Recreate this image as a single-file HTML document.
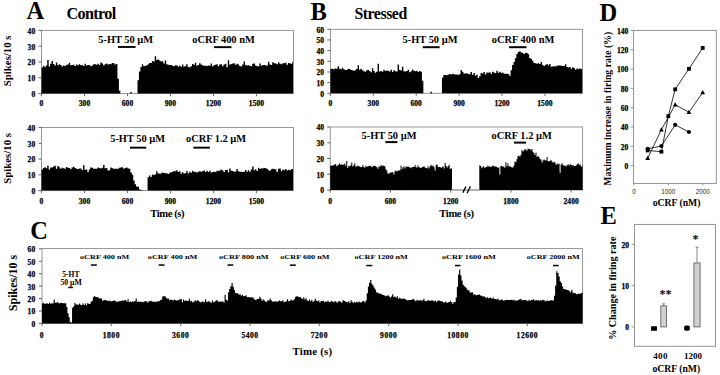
<!DOCTYPE html>
<html><head><meta charset="utf-8"><style>
html,body{margin:0;padding:0;background:#fff;}
svg{display:block;}
</style></head><body>
<svg width="720" height="375" viewBox="0 0 720 375">
<rect width="720" height="375" fill="#fff"/>
<text x="26.60" y="18.70" font-size="24.5" text-anchor="start" font-weight="bold" font-family='"Liberation Serif", serif' fill="#000" >A</text>
<text x="66.60" y="18.60" font-size="16.2" text-anchor="start" font-weight="bold" font-family='"Liberation Serif", serif' fill="#000"  textLength="49.62" lengthAdjust="spacing">Control</text>
<text x="310.40" y="19.60" font-size="24.5" text-anchor="start" font-weight="bold" font-family='"Liberation Serif", serif' fill="#000" >B</text>
<text x="354.40" y="18.80" font-size="15.8" text-anchor="start" font-weight="bold" font-family='"Liberation Serif", serif' fill="#000"  textLength="52.82" lengthAdjust="spacing">Stressed</text>
<text x="599.50" y="21.40" font-size="24.5" text-anchor="start" font-weight="bold" font-family='"Liberation Serif", serif' fill="#000" >D</text>
<text x="30.20" y="239.00" font-size="24.5" text-anchor="start" font-weight="bold" font-family='"Liberation Serif", serif' fill="#000" >C</text>
<text x="600.40" y="223.90" font-size="24.5" text-anchor="start" font-weight="bold" font-family='"Liberation Serif", serif' fill="#000" >E</text>
<rect x="41.50" y="30.40" width="252.00" height="63.20" fill="none" stroke="#8a8a8a" stroke-width="0.9"/>
<path d="M41.50,93.60L41.50,67.45L42.93,67.45L42.93,65.65L44.37,65.65L44.37,66.99L45.80,66.99L45.80,65.52L47.23,65.52L47.23,60.10L48.66,60.10L48.66,66.54L50.10,66.54L50.10,63.85L51.53,63.85L51.53,60.93L52.96,60.93L52.96,63.95L54.40,63.95L54.40,65.60L55.83,65.60L55.83,62.45L57.26,62.45L57.26,65.17L58.70,65.17L58.70,64.24L60.13,64.24L60.13,65.07L61.56,65.07L61.56,66.62L63.00,66.62L63.00,65.43L64.43,65.43L64.43,66.00L65.86,66.00L65.86,65.05L67.29,65.05L67.29,64.45L68.73,64.45L68.73,62.79L70.16,62.79L70.16,65.33L71.59,65.33L71.59,64.89L73.03,64.89L73.03,64.70L74.46,64.70L74.46,66.00L75.89,66.00L75.89,64.57L77.33,64.57L77.33,65.22L78.76,65.22L78.76,64.27L80.19,64.27L80.19,65.33L81.62,65.33L81.62,65.07L83.06,65.07L83.06,65.94L84.49,65.94L84.49,63.64L85.92,63.64L85.92,65.55L87.36,65.55L87.36,64.92L88.79,64.92L88.79,64.98L90.22,64.98L90.22,66.14L91.66,66.14L91.66,65.55L93.09,65.55L93.09,64.24L94.52,64.24L94.52,64.16L95.95,64.16L95.95,64.79L97.39,64.79L97.39,63.84L98.82,63.84L98.82,65.02L100.25,65.02L100.25,62.49L101.69,62.49L101.69,63.51L103.12,63.51L103.12,65.40L104.55,65.40L104.55,64.15L105.98,64.15L105.98,63.59L107.42,63.59L107.42,64.39L108.85,64.39L108.85,63.92L110.28,63.92L110.28,64.21L111.72,64.21L111.72,62.97L113.15,62.97L113.15,63.18L114.58,63.18L114.58,64.50L116.02,64.50L116.02,63.99L117.45,63.99L117.45,78.68L118.88,78.68L118.88,90.64L120.32,90.64L120.32,93.60L121.75,93.60L121.75,93.60L123.18,93.60L123.18,93.60L124.61,93.60L124.61,93.60L126.05,93.60L126.05,93.60L127.48,93.60L127.48,93.60L128.91,93.60L128.91,93.60L130.35,93.60L130.35,92.02L131.78,92.02L131.78,93.60L133.21,93.60L133.21,93.60L134.65,93.60L134.65,93.60L136.08,93.60L136.08,93.60L137.51,93.60L137.51,80.19L138.94,80.19L138.94,71.40L140.38,71.40L140.38,66.99L141.81,66.99L141.81,64.26L143.24,64.26L143.24,66.19L144.68,66.19L144.68,65.75L146.11,65.75L146.11,65.39L147.54,65.39L147.54,64.30L148.98,64.30L148.98,63.04L150.41,63.04L150.41,62.90L151.84,62.90L151.84,61.06L153.27,61.06L153.27,61.61L154.71,61.61L154.71,56.22L156.14,56.22L156.14,59.91L157.57,59.91L157.57,59.40L159.01,59.40L159.01,60.56L160.44,60.56L160.44,61.59L161.87,61.59L161.87,61.26L163.31,61.26L163.31,63.43L164.74,63.43L164.74,60.46L166.17,60.46L166.17,64.33L167.60,64.33L167.60,64.66L169.04,64.66L169.04,64.90L170.47,64.90L170.47,64.97L171.90,64.97L171.90,65.70L173.34,65.70L173.34,66.37L174.77,66.37L174.77,65.34L176.20,65.34L176.20,65.39L177.64,65.39L177.64,66.53L179.07,66.53L179.07,65.74L180.50,65.74L180.50,66.81L181.93,66.81L181.93,64.47L183.37,64.47L183.37,66.79L184.80,66.79L184.80,65.89L186.23,65.89L186.23,64.13L187.67,64.13L187.67,66.91L189.10,66.91L189.10,67.30L190.53,67.30L190.53,66.19L191.97,66.19L191.97,64.02L193.40,64.02L193.40,64.82L194.83,64.82L194.83,62.78L196.26,62.78L196.26,65.73L197.70,65.73L197.70,64.97L199.13,64.97L199.13,63.26L200.56,63.26L200.56,64.55L202.00,64.55L202.00,65.36L203.43,65.36L203.43,65.67L204.86,65.67L204.86,65.65L206.30,65.65L206.30,65.98L207.73,65.98L207.73,65.44L209.16,65.44L209.16,65.68L210.59,65.68L210.59,63.47L212.03,63.47L212.03,66.16L213.46,66.16L213.46,65.36L214.89,65.36L214.89,64.68L216.33,64.68L216.33,64.27L217.76,64.27L217.76,66.34L219.19,66.34L219.19,64.61L220.62,64.61L220.62,64.20L222.06,64.20L222.06,66.23L223.49,66.23L223.49,64.40L224.92,64.40L224.92,63.64L226.36,63.64L226.36,67.34L227.79,67.34L227.79,60.33L229.22,60.33L229.22,64.66L230.66,64.66L230.66,64.07L232.09,64.07L232.09,63.45L233.52,63.45L233.52,63.25L234.96,63.25L234.96,64.72L236.39,64.72L236.39,63.71L237.82,63.71L237.82,64.59L239.25,64.59L239.25,65.93L240.69,65.93L240.69,66.38L242.12,66.38L242.12,64.61L243.55,64.61L243.55,61.60L244.99,61.60L244.99,65.06L246.42,65.06L246.42,65.49L247.85,65.49L247.85,65.28L249.29,65.28L249.29,65.98L250.72,65.98L250.72,66.20L252.15,66.20L252.15,63.83L253.58,63.83L253.58,63.48L255.02,63.48L255.02,65.47L256.45,65.47L256.45,66.28L257.88,66.28L257.88,66.23L259.32,66.23L259.32,63.46L260.75,63.46L260.75,65.79L262.18,65.79L262.18,64.94L263.62,64.94L263.62,65.03L265.05,65.03L265.05,65.39L266.48,65.39L266.48,65.55L267.91,65.55L267.91,61.73L269.35,61.73L269.35,64.57L270.78,64.57L270.78,65.08L272.21,65.08L272.21,62.25L273.65,62.25L273.65,63.18L275.08,63.18L275.08,63.50L276.51,63.50L276.51,64.17L277.95,64.17L277.95,62.32L279.38,62.32L279.38,63.64L280.81,63.64L280.81,64.32L282.24,64.32L282.24,63.36L283.68,63.36L283.68,63.22L285.11,63.22L285.11,62.80L286.54,62.80L286.54,64.74L287.98,64.74L287.98,63.07L289.41,63.07L289.41,63.51L290.84,63.51L290.84,63.71L292.27,63.71L292.27,61.78L292.99,61.78L292.99,93.60Z" fill="#000"/>
<line x1="38.50" y1="93.60" x2="41.50" y2="93.60" stroke="#555" stroke-width="0.9"/>
<text x="35.20" y="97.00" font-size="7.6" text-anchor="end" font-weight="bold" font-family='"Liberation Serif", serif' fill="#000" stroke="#000" stroke-width="0.25">0</text>
<line x1="38.50" y1="77.80" x2="41.50" y2="77.80" stroke="#555" stroke-width="0.9"/>
<text x="35.20" y="81.20" font-size="7.6" text-anchor="end" font-weight="bold" font-family='"Liberation Serif", serif' fill="#000" stroke="#000" stroke-width="0.25">10</text>
<line x1="38.50" y1="62.00" x2="41.50" y2="62.00" stroke="#555" stroke-width="0.9"/>
<text x="35.20" y="65.40" font-size="7.6" text-anchor="end" font-weight="bold" font-family='"Liberation Serif", serif' fill="#000" stroke="#000" stroke-width="0.25">20</text>
<line x1="38.50" y1="46.20" x2="41.50" y2="46.20" stroke="#555" stroke-width="0.9"/>
<text x="35.20" y="49.60" font-size="7.6" text-anchor="end" font-weight="bold" font-family='"Liberation Serif", serif' fill="#000" stroke="#000" stroke-width="0.25">30</text>
<line x1="38.50" y1="30.40" x2="41.50" y2="30.40" stroke="#555" stroke-width="0.9"/>
<text x="35.20" y="33.80" font-size="7.6" text-anchor="end" font-weight="bold" font-family='"Liberation Serif", serif' fill="#000" stroke="#000" stroke-width="0.25">40</text>
<line x1="41.50" y1="93.60" x2="41.50" y2="96.20" stroke="#555" stroke-width="0.9"/>
<text x="41.50" y="106.40" font-size="7.6" text-anchor="middle" font-weight="bold" font-family='"Liberation Serif", serif' fill="#000"  stroke="#000" stroke-width="0.25">0</text>
<line x1="84.49" y1="93.60" x2="84.49" y2="96.20" stroke="#555" stroke-width="0.9"/>
<text x="84.49" y="106.40" font-size="7.6" text-anchor="middle" font-weight="bold" font-family='"Liberation Serif", serif' fill="#000"  stroke="#000" stroke-width="0.25">300</text>
<line x1="127.48" y1="93.60" x2="127.48" y2="96.20" stroke="#555" stroke-width="0.9"/>
<text x="127.48" y="106.40" font-size="7.6" text-anchor="middle" font-weight="bold" font-family='"Liberation Serif", serif' fill="#000"  stroke="#000" stroke-width="0.25">600</text>
<line x1="170.47" y1="93.60" x2="170.47" y2="96.20" stroke="#555" stroke-width="0.9"/>
<text x="170.47" y="106.40" font-size="7.6" text-anchor="middle" font-weight="bold" font-family='"Liberation Serif", serif' fill="#000"  stroke="#000" stroke-width="0.25">900</text>
<line x1="213.46" y1="93.60" x2="213.46" y2="96.20" stroke="#555" stroke-width="0.9"/>
<text x="213.46" y="106.40" font-size="7.6" text-anchor="middle" font-weight="bold" font-family='"Liberation Serif", serif' fill="#000"  stroke="#000" stroke-width="0.25">1200</text>
<line x1="256.45" y1="93.60" x2="256.45" y2="96.20" stroke="#555" stroke-width="0.9"/>
<text x="256.45" y="106.40" font-size="7.6" text-anchor="middle" font-weight="bold" font-family='"Liberation Serif", serif' fill="#000"  stroke="#000" stroke-width="0.25">1500</text>
<text x="0" y="0" font-size="10.8" text-anchor="middle" font-weight="bold" font-family='"Liberation Serif", serif' transform="translate(10.50,60.80) rotate(-90)" >Spikes/10 s</text>
<text x="98.30" y="42.80" font-size="10.4" text-anchor="start" font-weight="bold" font-family='"Liberation Serif", serif' fill="#000" >5-HT 50 µM</text>
<rect x="118.00" y="46.00" width="17.60" height="1.90" fill="#000" />
<text x="192.20" y="42.80" font-size="10.4" text-anchor="start" font-weight="bold" font-family='"Liberation Serif", serif' fill="#000" >oCRF 400 nM</text>
<rect x="214.00" y="46.20" width="17.50" height="1.90" fill="#000" />
<rect x="41.50" y="127.50" width="252.00" height="63.10" fill="none" stroke="#8a8a8a" stroke-width="0.9"/>
<path d="M41.50,190.60L41.50,169.57L42.93,169.57L42.93,167.98L44.37,167.98L44.37,167.28L45.80,167.28L45.80,168.14L47.23,168.14L47.23,165.83L48.66,165.83L48.66,169.39L50.10,169.39L50.10,167.58L51.53,167.58L51.53,167.39L52.96,167.39L52.96,166.57L54.40,166.57L54.40,165.83L55.83,165.83L55.83,168.70L57.26,168.70L57.26,165.98L58.70,165.98L58.70,167.23L60.13,167.23L60.13,168.77L61.56,168.77L61.56,167.76L63.00,167.76L63.00,168.35L64.43,168.35L64.43,168.70L65.86,168.70L65.86,166.98L67.29,166.98L67.29,167.65L68.73,167.65L68.73,168.02L70.16,168.02L70.16,169.31L71.59,169.31L71.59,167.58L73.03,167.58L73.03,166.70L74.46,166.70L74.46,167.91L75.89,167.91L75.89,168.66L77.33,168.66L77.33,168.96L78.76,168.96L78.76,168.41L80.19,168.41L80.19,168.61L81.62,168.61L81.62,169.92L83.06,169.92L83.06,165.24L84.49,165.24L84.49,169.87L85.92,169.87L85.92,169.61L87.36,169.61L87.36,171.89L88.79,171.89L88.79,169.44L90.22,169.44L90.22,167.42L91.66,167.42L91.66,167.67L93.09,167.67L93.09,168.71L94.52,168.71L94.52,168.73L95.95,168.73L95.95,168.70L97.39,168.70L97.39,167.42L98.82,167.42L98.82,167.91L100.25,167.91L100.25,168.60L101.69,168.60L101.69,167.85L103.12,167.85L103.12,165.11L104.55,165.11L104.55,168.30L105.98,168.30L105.98,167.91L107.42,167.91L107.42,170.38L108.85,170.38L108.85,170.22L110.28,170.22L110.28,167.53L111.72,167.53L111.72,168.22L113.15,168.22L113.15,168.77L114.58,168.77L114.58,168.85L116.02,168.85L116.02,168.83L117.45,168.83L117.45,168.83L118.88,168.83L118.88,167.87L120.32,167.87L120.32,167.60L121.75,167.60L121.75,167.19L123.18,167.19L123.18,168.64L124.61,168.64L124.61,168.06L126.05,168.06L126.05,167.47L127.48,167.47L127.48,168.38L128.91,168.38L128.91,168.67L130.35,168.67L130.35,172.53L131.78,172.53L131.78,174.65L133.21,174.65L133.21,180.55L134.65,180.55L134.65,184.25L136.08,184.25L136.08,186.61L137.51,186.61L137.51,186.70L138.94,186.70L138.94,189.39L140.38,189.39L140.38,189.84L141.81,189.84L141.81,190.24L143.24,190.24L143.24,190.60L144.68,190.60L144.68,190.60L146.11,190.60L146.11,190.60L147.54,190.60L147.54,177.26L148.98,177.26L148.98,175.44L150.41,175.44L150.41,177.11L151.84,177.11L151.84,174.40L153.27,174.40L153.27,174.97L154.71,174.97L154.71,174.36L156.14,174.36L156.14,171.17L157.57,171.17L157.57,173.48L159.01,173.48L159.01,173.39L160.44,173.39L160.44,173.53L161.87,173.53L161.87,172.45L163.31,172.45L163.31,173.02L164.74,173.02L164.74,173.22L166.17,173.22L166.17,173.19L167.60,173.19L167.60,174.08L169.04,174.08L169.04,172.65L170.47,172.65L170.47,172.27L171.90,172.27L171.90,171.80L173.34,171.80L173.34,171.09L174.77,171.09L174.77,171.33L176.20,171.33L176.20,170.27L177.64,170.27L177.64,171.94L179.07,171.94L179.07,171.24L180.50,171.24L180.50,173.63L181.93,173.63L181.93,172.13L183.37,172.13L183.37,173.51L184.80,173.51L184.80,173.17L186.23,173.17L186.23,170.91L187.67,170.91L187.67,173.38L189.10,173.38L189.10,171.86L190.53,171.86L190.53,172.83L191.97,172.83L191.97,170.66L193.40,170.66L193.40,172.02L194.83,172.02L194.83,171.86L196.26,171.86L196.26,172.56L197.70,172.56L197.70,171.87L199.13,171.87L199.13,171.18L200.56,171.18L200.56,171.63L202.00,171.63L202.00,171.30L203.43,171.30L203.43,170.38L204.86,170.38L204.86,172.03L206.30,172.03L206.30,170.83L207.73,170.83L207.73,171.97L209.16,171.97L209.16,170.72L210.59,170.72L210.59,172.48L212.03,172.48L212.03,171.92L213.46,171.92L213.46,171.84L214.89,171.84L214.89,172.02L216.33,172.02L216.33,170.64L217.76,170.64L217.76,171.04L219.19,171.04L219.19,170.52L220.62,170.52L220.62,169.48L222.06,169.48L222.06,170.56L223.49,170.56L223.49,172.09L224.92,172.09L224.92,169.89L226.36,169.89L226.36,169.87L227.79,169.87L227.79,172.36L229.22,172.36L229.22,168.55L230.66,168.55L230.66,170.84L232.09,170.84L232.09,171.10L233.52,171.10L233.52,171.67L234.96,171.67L234.96,171.58L236.39,171.58L236.39,169.09L237.82,169.09L237.82,171.27L239.25,171.27L239.25,171.85L240.69,171.85L240.69,171.73L242.12,171.73L242.12,172.03L243.55,172.03L243.55,171.80L244.99,171.80L244.99,170.06L246.42,170.06L246.42,171.66L247.85,171.66L247.85,170.17L249.29,170.17L249.29,171.72L250.72,171.72L250.72,169.60L252.15,169.60L252.15,166.62L253.58,166.62L253.58,170.29L255.02,170.29L255.02,169.18L256.45,169.18L256.45,170.99L257.88,170.99L257.88,167.65L259.32,167.65L259.32,169.05L260.75,169.05L260.75,168.28L262.18,168.28L262.18,168.49L263.62,168.49L263.62,167.97L265.05,167.97L265.05,168.18L266.48,168.18L266.48,168.66L267.91,168.66L267.91,170.16L269.35,170.16L269.35,170.80L270.78,170.80L270.78,169.23L272.21,169.23L272.21,168.67L273.65,168.67L273.65,169.10L275.08,169.10L275.08,169.57L276.51,169.57L276.51,171.97L277.95,171.97L277.95,168.64L279.38,168.64L279.38,168.60L280.81,168.60L280.81,171.30L282.24,171.30L282.24,169.61L283.68,169.61L283.68,170.27L285.11,170.27L285.11,168.99L286.54,168.99L286.54,170.40L287.98,170.40L287.98,169.72L289.41,169.72L289.41,170.22L290.84,170.22L290.84,169.25L292.27,169.25L292.27,168.95L292.99,168.95L292.99,190.60Z" fill="#000"/>
<line x1="38.50" y1="190.60" x2="41.50" y2="190.60" stroke="#555" stroke-width="0.9"/>
<text x="35.20" y="194.00" font-size="7.6" text-anchor="end" font-weight="bold" font-family='"Liberation Serif", serif' fill="#000" stroke="#000" stroke-width="0.25">0</text>
<line x1="38.50" y1="174.82" x2="41.50" y2="174.82" stroke="#555" stroke-width="0.9"/>
<text x="35.20" y="178.22" font-size="7.6" text-anchor="end" font-weight="bold" font-family='"Liberation Serif", serif' fill="#000" stroke="#000" stroke-width="0.25">10</text>
<line x1="38.50" y1="159.05" x2="41.50" y2="159.05" stroke="#555" stroke-width="0.9"/>
<text x="35.20" y="162.45" font-size="7.6" text-anchor="end" font-weight="bold" font-family='"Liberation Serif", serif' fill="#000" stroke="#000" stroke-width="0.25">20</text>
<line x1="38.50" y1="143.28" x2="41.50" y2="143.28" stroke="#555" stroke-width="0.9"/>
<text x="35.20" y="146.68" font-size="7.6" text-anchor="end" font-weight="bold" font-family='"Liberation Serif", serif' fill="#000" stroke="#000" stroke-width="0.25">30</text>
<line x1="38.50" y1="127.50" x2="41.50" y2="127.50" stroke="#555" stroke-width="0.9"/>
<text x="35.20" y="130.90" font-size="7.6" text-anchor="end" font-weight="bold" font-family='"Liberation Serif", serif' fill="#000" stroke="#000" stroke-width="0.25">40</text>
<line x1="41.50" y1="190.60" x2="41.50" y2="193.20" stroke="#555" stroke-width="0.9"/>
<text x="41.50" y="203.80" font-size="7.6" text-anchor="middle" font-weight="bold" font-family='"Liberation Serif", serif' fill="#000"  stroke="#000" stroke-width="0.25">0</text>
<line x1="84.49" y1="190.60" x2="84.49" y2="193.20" stroke="#555" stroke-width="0.9"/>
<text x="84.49" y="203.80" font-size="7.6" text-anchor="middle" font-weight="bold" font-family='"Liberation Serif", serif' fill="#000"  stroke="#000" stroke-width="0.25">300</text>
<line x1="127.48" y1="190.60" x2="127.48" y2="193.20" stroke="#555" stroke-width="0.9"/>
<text x="127.48" y="203.80" font-size="7.6" text-anchor="middle" font-weight="bold" font-family='"Liberation Serif", serif' fill="#000"  stroke="#000" stroke-width="0.25">600</text>
<line x1="170.47" y1="190.60" x2="170.47" y2="193.20" stroke="#555" stroke-width="0.9"/>
<text x="170.47" y="203.80" font-size="7.6" text-anchor="middle" font-weight="bold" font-family='"Liberation Serif", serif' fill="#000"  stroke="#000" stroke-width="0.25">900</text>
<line x1="213.46" y1="190.60" x2="213.46" y2="193.20" stroke="#555" stroke-width="0.9"/>
<text x="213.46" y="203.80" font-size="7.6" text-anchor="middle" font-weight="bold" font-family='"Liberation Serif", serif' fill="#000"  stroke="#000" stroke-width="0.25">1200</text>
<line x1="256.45" y1="190.60" x2="256.45" y2="193.20" stroke="#555" stroke-width="0.9"/>
<text x="256.45" y="203.80" font-size="7.6" text-anchor="middle" font-weight="bold" font-family='"Liberation Serif", serif' fill="#000"  stroke="#000" stroke-width="0.25">1500</text>
<text x="0" y="0" font-size="10.8" text-anchor="middle" font-weight="bold" font-family='"Liberation Serif", serif' transform="translate(11.00,158.40) rotate(-90)" >Spikes/10 s</text>
<text x="110.20" y="141.50" font-size="10.4" text-anchor="start" font-weight="bold" font-family='"Liberation Serif", serif' fill="#000" >5-HT 50 µM</text>
<rect x="130.00" y="146.70" width="16.20" height="1.90" fill="#000" />
<text x="186.00" y="141.50" font-size="10.4" text-anchor="start" font-weight="bold" font-family='"Liberation Serif", serif' fill="#000" >oCRF 1.2 µM</text>
<rect x="193.40" y="146.70" width="16.50" height="1.90" fill="#000" />
<text x="150.30" y="217.30" font-size="10.6" text-anchor="start" font-weight="bold" font-family='"Liberation Serif", serif' fill="#000"  textLength="34.23" lengthAdjust="spacing">Time (s)</text>
<rect x="330.40" y="29.30" width="252.00" height="64.00" fill="none" stroke="#8a8a8a" stroke-width="0.9"/>
<path d="M330.40,93.30L330.40,68.93L331.83,68.93L331.83,68.63L333.26,68.63L333.26,69.27L334.69,69.27L334.69,68.45L336.12,68.45L336.12,68.66L337.55,68.66L337.55,66.31L338.98,66.31L338.98,68.65L340.41,68.65L340.41,69.25L341.84,69.25L341.84,67.63L343.27,67.63L343.27,69.23L344.70,69.23L344.70,69.98L346.13,69.98L346.13,70.01L347.56,70.01L347.56,68.76L348.99,68.76L348.99,68.93L350.42,68.93L350.42,69.89L351.85,69.89L351.85,70.37L353.28,70.37L353.28,70.67L354.71,70.67L354.71,70.34L356.14,70.34L356.14,68.95L357.57,68.95L357.57,65.25L359.00,65.25L359.00,69.85L360.43,69.85L360.43,68.69L361.86,68.69L361.86,70.30L363.29,70.30L363.29,71.25L364.72,71.25L364.72,71.64L366.15,71.64L366.15,70.32L367.58,70.32L367.58,70.04L369.01,70.04L369.01,71.01L370.44,71.01L370.44,72.19L371.87,72.19L371.87,68.31L373.30,68.31L373.30,71.10L374.73,71.10L374.73,72.69L376.16,72.69L376.16,71.75L377.59,71.75L377.59,63.65L379.02,63.65L379.02,71.62L380.45,71.62L380.45,71.11L381.88,71.11L381.88,71.67L383.31,71.67L383.31,69.65L384.74,69.65L384.74,70.97L386.17,70.97L386.17,70.61L387.60,70.61L387.60,70.81L389.03,70.81L389.03,71.54L390.46,71.54L390.46,69.66L391.89,69.66L391.89,71.93L393.32,71.93L393.32,70.17L394.75,70.17L394.75,71.22L396.18,71.22L396.18,71.38L397.61,71.38L397.61,64.50L399.04,64.50L399.04,70.03L400.47,70.03L400.47,70.61L401.90,70.61L401.90,66.63L403.33,66.63L403.33,71.32L404.76,71.32L404.76,71.50L406.19,71.50L406.19,70.98L407.62,70.98L407.62,69.71L409.05,69.71L409.05,72.29L410.48,72.29L410.48,71.24L411.91,71.24L411.91,69.62L413.34,69.62L413.34,70.82L414.77,70.82L414.77,71.19L416.20,71.19L416.20,70.65L417.63,70.65L417.63,71.89L419.06,71.89L419.06,71.00L420.49,71.00L420.49,71.77L421.92,71.77L421.92,80.70L423.35,80.70L423.35,93.30L424.78,93.30L424.78,93.30L426.21,93.30L426.21,93.30L427.64,93.30L427.64,93.30L429.07,93.30L429.07,93.30L430.50,93.30L430.50,91.70L431.93,91.70L431.93,93.30L433.36,93.30L433.36,93.30L434.79,93.30L434.79,93.30L436.22,93.30L436.22,93.30L437.65,93.30L437.65,93.30L439.08,93.30L439.08,93.30L440.51,93.30L440.51,93.30L441.94,93.30L441.94,77.54L443.37,77.54L443.37,75.08L444.80,75.08L444.80,74.92L446.23,74.92L446.23,75.23L447.66,75.23L447.66,74.81L449.09,74.81L449.09,74.03L450.52,74.03L450.52,74.50L451.95,74.50L451.95,73.63L453.38,73.63L453.38,74.20L454.81,74.20L454.81,74.50L456.24,74.50L456.24,74.59L457.67,74.59L457.67,74.76L459.10,74.76L459.10,74.30L460.53,74.30L460.53,69.94L461.96,69.94L461.96,71.70L463.39,71.70L463.39,73.54L464.82,73.54L464.82,73.55L466.25,73.55L466.25,73.31L467.68,73.31L467.68,73.89L469.11,73.89L469.11,74.33L470.54,74.33L470.54,71.89L471.97,71.89L471.97,74.81L473.40,74.81L473.40,73.03L474.83,73.03L474.83,75.80L476.26,75.80L476.26,74.79L477.69,74.79L477.69,77.91L479.12,77.91L479.12,76.18L480.55,76.18L480.55,73.06L481.98,73.06L481.98,73.55L483.41,73.55L483.41,72.10L484.84,72.10L484.84,74.39L486.27,74.39L486.27,72.46L487.70,72.46L487.70,72.77L489.13,72.77L489.13,72.32L490.56,72.32L490.56,73.73L491.99,73.73L491.99,71.81L493.42,71.81L493.42,72.60L494.85,72.60L494.85,73.20L496.28,73.20L496.28,70.77L497.71,70.77L497.71,72.66L499.14,72.66L499.14,71.67L500.57,71.67L500.57,73.11L502.00,73.11L502.00,72.52L503.43,72.52L503.43,73.75L504.86,73.75L504.86,73.83L506.29,73.83L506.29,73.63L507.72,73.63L507.72,74.10L509.15,74.10L509.15,75.70L510.58,75.70L510.58,70.14L512.01,70.14L512.01,65.08L513.44,65.08L513.44,61.89L514.87,61.89L514.87,58.18L516.30,58.18L516.30,53.91L517.73,53.91L517.73,51.98L519.16,51.98L519.16,51.35L520.59,51.35L520.59,52.51L522.02,52.51L522.02,52.78L523.45,52.78L523.45,54.09L524.88,54.09L524.88,52.81L526.31,52.81L526.31,53.01L527.74,53.01L527.74,54.32L529.17,54.32L529.17,57.98L530.60,57.98L530.60,59.02L532.03,59.02L532.03,60.69L533.46,60.69L533.46,62.89L534.89,62.89L534.89,63.32L536.32,63.32L536.32,63.70L537.75,63.70L537.75,63.22L539.18,63.22L539.18,63.88L540.61,63.88L540.61,62.05L542.04,62.05L542.04,64.96L543.47,64.96L543.47,66.00L544.90,66.00L544.90,65.10L546.33,65.10L546.33,64.12L547.76,64.12L547.76,65.57L549.19,65.57L549.19,63.95L550.62,63.95L550.62,66.67L552.05,66.67L552.05,66.54L553.48,66.54L553.48,66.25L554.91,66.25L554.91,66.57L556.34,66.57L556.34,65.66L557.77,65.66L557.77,65.56L559.20,65.56L559.20,65.42L560.63,65.42L560.63,65.81L562.06,65.81L562.06,66.01L563.49,66.01L563.49,66.11L564.92,66.11L564.92,64.29L566.35,64.29L566.35,66.95L567.78,66.95L567.78,67.50L569.21,67.50L569.21,66.94L570.64,66.94L570.64,68.71L572.07,68.71L572.07,67.14L573.50,67.14L573.50,67.96L574.93,67.96L574.93,69.68L576.36,69.68L576.36,68.49L577.79,68.49L577.79,69.16L579.22,69.16L579.22,68.54L580.65,68.54L580.65,68.89L582.22,68.89L582.22,93.30Z" fill="#000"/>
<line x1="327.40" y1="93.30" x2="330.40" y2="93.30" stroke="#555" stroke-width="0.9"/>
<text x="324.00" y="96.70" font-size="7.6" text-anchor="end" font-weight="bold" font-family='"Liberation Serif", serif' fill="#000" stroke="#000" stroke-width="0.25">0</text>
<line x1="327.40" y1="82.63" x2="330.40" y2="82.63" stroke="#555" stroke-width="0.9"/>
<text x="324.00" y="86.03" font-size="7.6" text-anchor="end" font-weight="bold" font-family='"Liberation Serif", serif' fill="#000" stroke="#000" stroke-width="0.25">10</text>
<line x1="327.40" y1="71.97" x2="330.40" y2="71.97" stroke="#555" stroke-width="0.9"/>
<text x="324.00" y="75.37" font-size="7.6" text-anchor="end" font-weight="bold" font-family='"Liberation Serif", serif' fill="#000" stroke="#000" stroke-width="0.25">20</text>
<line x1="327.40" y1="61.30" x2="330.40" y2="61.30" stroke="#555" stroke-width="0.9"/>
<text x="324.00" y="64.70" font-size="7.6" text-anchor="end" font-weight="bold" font-family='"Liberation Serif", serif' fill="#000" stroke="#000" stroke-width="0.25">30</text>
<line x1="327.40" y1="50.63" x2="330.40" y2="50.63" stroke="#555" stroke-width="0.9"/>
<text x="324.00" y="54.03" font-size="7.6" text-anchor="end" font-weight="bold" font-family='"Liberation Serif", serif' fill="#000" stroke="#000" stroke-width="0.25">40</text>
<line x1="327.40" y1="39.96" x2="330.40" y2="39.96" stroke="#555" stroke-width="0.9"/>
<text x="324.00" y="43.36" font-size="7.6" text-anchor="end" font-weight="bold" font-family='"Liberation Serif", serif' fill="#000" stroke="#000" stroke-width="0.25">50</text>
<line x1="327.40" y1="29.30" x2="330.40" y2="29.30" stroke="#555" stroke-width="0.9"/>
<text x="324.00" y="32.70" font-size="7.6" text-anchor="end" font-weight="bold" font-family='"Liberation Serif", serif' fill="#000" stroke="#000" stroke-width="0.25">60</text>
<line x1="330.40" y1="93.30" x2="330.40" y2="95.90" stroke="#555" stroke-width="0.9"/>
<text x="330.40" y="106.40" font-size="7.6" text-anchor="middle" font-weight="bold" font-family='"Liberation Serif", serif' fill="#000"  stroke="#000" stroke-width="0.25">0</text>
<line x1="373.30" y1="93.30" x2="373.30" y2="95.90" stroke="#555" stroke-width="0.9"/>
<text x="373.30" y="106.40" font-size="7.6" text-anchor="middle" font-weight="bold" font-family='"Liberation Serif", serif' fill="#000"  stroke="#000" stroke-width="0.25">300</text>
<line x1="416.20" y1="93.30" x2="416.20" y2="95.90" stroke="#555" stroke-width="0.9"/>
<text x="416.20" y="106.40" font-size="7.6" text-anchor="middle" font-weight="bold" font-family='"Liberation Serif", serif' fill="#000"  stroke="#000" stroke-width="0.25">600</text>
<line x1="459.10" y1="93.30" x2="459.10" y2="95.90" stroke="#555" stroke-width="0.9"/>
<text x="459.10" y="106.40" font-size="7.6" text-anchor="middle" font-weight="bold" font-family='"Liberation Serif", serif' fill="#000"  stroke="#000" stroke-width="0.25">900</text>
<line x1="502.00" y1="93.30" x2="502.00" y2="95.90" stroke="#555" stroke-width="0.9"/>
<text x="502.00" y="106.40" font-size="7.6" text-anchor="middle" font-weight="bold" font-family='"Liberation Serif", serif' fill="#000"  stroke="#000" stroke-width="0.25">1200</text>
<line x1="544.90" y1="93.30" x2="544.90" y2="95.90" stroke="#555" stroke-width="0.9"/>
<text x="544.90" y="106.40" font-size="7.6" text-anchor="middle" font-weight="bold" font-family='"Liberation Serif", serif' fill="#000"  stroke="#000" stroke-width="0.25">1500</text>
<text x="402.60" y="42.60" font-size="10.4" text-anchor="start" font-weight="bold" font-family='"Liberation Serif", serif' fill="#000" >5-HT 50 µM</text>
<rect x="422.80" y="46.20" width="16.80" height="2.00" fill="#000" />
<text x="491.80" y="42.60" font-size="10.4" text-anchor="start" font-weight="bold" font-family='"Liberation Serif", serif' fill="#000" >oCRF 400 nM</text>
<rect x="509.10" y="46.20" width="17.40" height="2.00" fill="#000" />
<rect x="330.20" y="127.00" width="252.40" height="63.00" fill="none" stroke="#8a8a8a" stroke-width="0.9"/>
<path d="M330.20,190.00L330.20,165.53L331.20,165.53L331.20,165.81L332.21,165.81L332.21,165.41L333.21,165.41L333.21,165.22L334.22,165.22L334.22,164.50L335.22,164.50L335.22,164.05L336.22,164.05L336.22,166.15L337.23,166.15L337.23,165.24L338.23,165.24L338.23,164.71L339.24,164.71L339.24,163.22L340.24,163.22L340.24,164.66L341.24,164.66L341.24,164.21L342.25,164.21L342.25,164.93L343.25,164.93L343.25,164.54L344.26,164.54L344.26,163.53L345.26,163.53L345.26,165.86L346.26,165.86L346.26,161.08L347.27,161.08L347.27,167.94L348.27,167.94L348.27,165.98L349.28,165.98L349.28,166.22L350.28,166.22L350.28,165.30L351.28,165.30L351.28,162.58L352.29,162.58L352.29,166.41L353.29,166.41L353.29,165.20L354.30,165.20L354.30,163.22L355.30,163.22L355.30,166.71L356.30,166.71L356.30,166.30L357.31,166.30L357.31,165.56L358.31,165.56L358.31,166.32L359.32,166.32L359.32,166.52L360.32,166.52L360.32,167.33L361.32,167.33L361.32,167.04L362.33,167.04L362.33,165.04L363.33,165.04L363.33,166.94L364.34,166.94L364.34,167.85L365.34,167.85L365.34,165.76L366.34,165.76L366.34,166.69L367.35,166.69L367.35,166.45L368.35,166.45L368.35,165.83L369.36,165.83L369.36,165.88L370.36,165.88L370.36,165.66L371.36,165.66L371.36,167.18L372.37,167.18L372.37,166.51L373.37,166.51L373.37,165.46L374.38,165.46L374.38,165.93L375.38,165.93L375.38,166.28L376.38,166.28L376.38,167.30L377.39,167.30L377.39,168.80L378.39,168.80L378.39,166.17L379.40,166.17L379.40,167.09L380.40,167.09L380.40,165.05L381.40,165.05L381.40,165.91L382.41,165.91L382.41,165.26L383.41,165.26L383.41,166.11L384.42,166.11L384.42,166.19L385.42,166.19L385.42,169.25L386.42,169.25L386.42,170.86L387.43,170.86L387.43,173.44L388.43,173.44L388.43,173.81L389.44,173.81L389.44,172.52L390.44,172.52L390.44,172.76L391.44,172.76L391.44,172.12L392.45,172.12L392.45,172.27L393.45,172.27L393.45,174.42L394.46,174.42L394.46,171.20L395.46,171.20L395.46,170.49L396.46,170.49L396.46,171.47L397.47,171.47L397.47,170.75L398.47,170.75L398.47,170.60L399.48,170.60L399.48,170.30L400.48,170.30L400.48,165.78L401.48,165.78L401.48,169.28L402.49,169.28L402.49,167.20L403.49,167.20L403.49,166.52L404.50,166.52L404.50,168.57L405.50,168.57L405.50,166.14L406.50,166.14L406.50,166.95L407.51,166.95L407.51,166.30L408.51,166.30L408.51,167.10L409.52,167.10L409.52,167.48L410.52,167.48L410.52,168.24L411.52,168.24L411.52,166.99L412.53,166.99L412.53,167.03L413.53,167.03L413.53,166.90L414.54,166.90L414.54,165.12L415.54,165.12L415.54,167.10L416.54,167.10L416.54,167.77L417.55,167.77L417.55,165.13L418.55,165.13L418.55,166.99L419.56,166.99L419.56,167.79L420.56,167.79L420.56,167.91L421.56,167.91L421.56,167.31L422.57,167.31L422.57,166.75L423.57,166.75L423.57,166.25L424.58,166.25L424.58,167.62L425.58,167.62L425.58,168.10L426.58,168.10L426.58,168.17L427.59,168.17L427.59,166.16L428.59,166.16L428.59,168.57L429.60,168.57L429.60,166.14L430.60,166.14L430.60,164.83L431.60,164.83L431.60,166.37L432.61,166.37L432.61,165.39L433.61,165.39L433.61,167.24L434.62,167.24L434.62,170.42L435.62,170.42L435.62,164.93L436.62,164.93L436.62,164.49L437.63,164.49L437.63,166.78L438.63,166.78L438.63,166.92L439.64,166.92L439.64,166.88L440.64,166.88L440.64,168.11L441.64,168.11L441.64,166.90L442.65,166.90L442.65,166.32L443.65,166.32L443.65,168.38L444.66,168.38L444.66,162.93L445.66,162.93L445.66,166.02L446.66,166.02L446.66,167.43L447.67,167.43L447.67,166.17L448.67,166.17L448.67,164.87L449.68,164.87L449.68,168.66L450.68,168.66L450.68,168.43L451.99,168.43L451.99,190.00Z" fill="#000"/>
<path d="M479.29,190.00L479.29,165.35L480.30,165.35L480.30,165.98L481.30,165.98L481.30,168.15L482.31,168.15L482.31,166.97L483.31,166.97L483.31,166.36L484.31,166.36L484.31,167.94L485.32,167.94L485.32,167.00L486.32,167.00L486.32,166.94L487.33,166.94L487.33,165.42L488.33,165.42L488.33,166.85L489.33,166.85L489.33,166.32L490.34,166.32L490.34,167.10L491.34,167.10L491.34,166.45L492.35,166.45L492.35,165.60L493.35,165.60L493.35,166.03L494.35,166.03L494.35,166.67L495.36,166.67L495.36,166.35L496.36,166.35L496.36,167.11L497.37,167.11L497.37,167.97L498.37,167.97L498.37,167.35L499.37,167.35L499.37,174.41L500.38,174.41L500.38,165.98L501.38,165.98L501.38,165.81L502.39,165.81L502.39,166.87L503.39,166.87L503.39,166.39L504.39,166.39L504.39,167.72L505.40,167.72L505.40,162.28L506.40,162.28L506.40,166.22L507.41,166.22L507.41,163.29L508.41,163.29L508.41,166.49L509.41,166.49L509.41,165.67L510.42,165.67L510.42,167.04L511.42,167.04L511.42,167.55L512.43,167.55L512.43,167.47L513.43,167.47L513.43,165.46L514.43,165.46L514.43,161.38L515.44,161.38L515.44,162.15L516.44,162.15L516.44,159.37L517.45,159.37L517.45,155.93L518.45,155.93L518.45,155.59L519.45,155.59L519.45,156.80L520.46,156.80L520.46,154.83L521.46,154.83L521.46,150.11L522.47,150.11L522.47,151.38L523.47,151.38L523.47,150.48L524.47,150.48L524.47,149.04L525.48,149.04L525.48,149.46L526.48,149.46L526.48,150.73L527.49,150.73L527.49,148.41L528.49,148.41L528.49,148.89L529.49,148.89L529.49,149.10L530.50,149.10L530.50,150.30L531.50,150.30L531.50,148.99L532.51,148.99L532.51,151.93L533.51,151.93L533.51,152.93L534.51,152.93L534.51,154.97L535.52,154.97L535.52,152.54L536.52,152.54L536.52,156.90L537.53,156.90L537.53,155.79L538.53,155.79L538.53,157.09L539.53,157.09L539.53,158.97L540.54,158.97L540.54,159.44L541.54,159.44L541.54,162.60L542.55,162.60L542.55,160.38L543.55,160.38L543.55,159.47L544.55,159.47L544.55,160.28L545.56,160.28L545.56,160.56L546.56,160.56L546.56,157.08L547.57,157.08L547.57,161.62L548.57,161.62L548.57,161.06L549.57,161.06L549.57,161.08L550.58,161.08L550.58,159.89L551.58,159.89L551.58,161.52L552.59,161.52L552.59,162.72L553.59,162.72L553.59,161.83L554.59,161.83L554.59,162.57L555.60,162.57L555.60,164.92L556.60,164.92L556.60,163.61L557.61,163.61L557.61,164.18L558.61,164.18L558.61,163.69L559.61,163.69L559.61,172.68L560.62,172.68L560.62,164.38L561.62,164.38L561.62,163.15L562.63,163.15L562.63,165.25L563.63,165.25L563.63,165.85L564.63,165.85L564.63,165.39L565.64,165.39L565.64,166.51L566.64,166.51L566.64,165.29L567.65,165.29L567.65,164.31L568.65,164.31L568.65,165.41L569.65,165.41L569.65,164.04L570.66,164.04L570.66,165.08L571.66,165.08L571.66,165.48L572.67,165.48L572.67,164.96L573.67,164.96L573.67,166.14L574.67,166.14L574.67,165.98L575.68,165.98L575.68,165.61L576.68,165.61L576.68,164.18L577.69,164.18L577.69,163.31L578.69,163.31L578.69,165.10L579.69,165.10L579.69,164.16L580.70,164.16L580.70,166.83L581.70,166.83L581.70,165.68L582.61,165.68L582.61,190.00Z" fill="#000"/>
<line x1="327.20" y1="190.00" x2="330.20" y2="190.00" stroke="#555" stroke-width="0.9"/>
<text x="324.00" y="193.40" font-size="7.6" text-anchor="end" font-weight="bold" font-family='"Liberation Serif", serif' fill="#000" stroke="#000" stroke-width="0.25">0</text>
<line x1="327.20" y1="174.25" x2="330.20" y2="174.25" stroke="#555" stroke-width="0.9"/>
<text x="324.00" y="177.65" font-size="7.6" text-anchor="end" font-weight="bold" font-family='"Liberation Serif", serif' fill="#000" stroke="#000" stroke-width="0.25">10</text>
<line x1="327.20" y1="158.50" x2="330.20" y2="158.50" stroke="#555" stroke-width="0.9"/>
<text x="324.00" y="161.90" font-size="7.6" text-anchor="end" font-weight="bold" font-family='"Liberation Serif", serif' fill="#000" stroke="#000" stroke-width="0.25">20</text>
<line x1="327.20" y1="142.75" x2="330.20" y2="142.75" stroke="#555" stroke-width="0.9"/>
<text x="324.00" y="146.15" font-size="7.6" text-anchor="end" font-weight="bold" font-family='"Liberation Serif", serif' fill="#000" stroke="#000" stroke-width="0.25">30</text>
<line x1="327.20" y1="127.00" x2="330.20" y2="127.00" stroke="#555" stroke-width="0.9"/>
<text x="324.00" y="130.40" font-size="7.6" text-anchor="end" font-weight="bold" font-family='"Liberation Serif", serif' fill="#000" stroke="#000" stroke-width="0.25">40</text>
<line x1="330.20" y1="190.00" x2="330.20" y2="192.60" stroke="#555" stroke-width="0.9"/>
<text x="330.20" y="203.60" font-size="7.6" text-anchor="middle" font-weight="bold" font-family='"Liberation Serif", serif' fill="#000"  stroke="#000" stroke-width="0.25">0</text>
<line x1="390.44" y1="190.00" x2="390.44" y2="192.60" stroke="#555" stroke-width="0.9"/>
<text x="390.44" y="203.60" font-size="7.6" text-anchor="middle" font-weight="bold" font-family='"Liberation Serif", serif' fill="#000"  stroke="#000" stroke-width="0.25">600</text>
<line x1="450.68" y1="190.00" x2="450.68" y2="192.60" stroke="#555" stroke-width="0.9"/>
<text x="450.68" y="203.60" font-size="7.6" text-anchor="middle" font-weight="bold" font-family='"Liberation Serif", serif' fill="#000"  stroke="#000" stroke-width="0.25">1200</text>
<line x1="510.92" y1="190.00" x2="510.92" y2="192.60" stroke="#555" stroke-width="0.9"/>
<text x="510.92" y="203.60" font-size="7.6" text-anchor="middle" font-weight="bold" font-family='"Liberation Serif", serif' fill="#000"  stroke="#000" stroke-width="0.25">1800</text>
<line x1="571.16" y1="190.00" x2="571.16" y2="192.60" stroke="#555" stroke-width="0.9"/>
<text x="571.16" y="203.60" font-size="7.6" text-anchor="middle" font-weight="bold" font-family='"Liberation Serif", serif' fill="#000"  stroke="#000" stroke-width="0.25">2400</text>
<rect x="451.90" y="185.00" width="27.20" height="4.40" fill="#fff" />
<line x1="451.90" y1="190.00" x2="479.10" y2="190.00" stroke="#8a8a8a" stroke-width="0.9"/>
<line x1="462.90" y1="192.60" x2="465.90" y2="186.60" stroke="#000" stroke-width="1.3"/>
<line x1="467.10" y1="193.30" x2="470.40" y2="186.40" stroke="#000" stroke-width="1.3"/>
<text x="361.60" y="139.30" font-size="10.4" text-anchor="start" font-weight="bold" font-family='"Liberation Serif", serif' fill="#000" >5-HT 50 µM</text>
<rect x="385.40" y="141.10" width="12.00" height="2.00" fill="#000" />
<text x="491.60" y="139.30" font-size="10.4" text-anchor="start" font-weight="bold" font-family='"Liberation Serif", serif' fill="#000" >oCRF 1.2 µM</text>
<rect x="514.00" y="141.60" width="12.00" height="2.00" fill="#000" />
<text x="439.30" y="217.10" font-size="10.6" text-anchor="start" font-weight="bold" font-family='"Liberation Serif", serif' fill="#000"  textLength="34.68" lengthAdjust="spacing">Time (s)</text>
<rect x="42.00" y="248.60" width="540.60" height="74.80" fill="none" stroke="#8a8a8a" stroke-width="0.9"/>
<path d="M42.00,323.40L42.00,303.47L43.16,303.47L43.16,302.82L44.31,302.82L44.31,303.96L45.47,303.96L45.47,303.56L46.62,303.56L46.62,303.20L47.78,303.20L47.78,303.91L48.93,303.91L48.93,302.74L50.09,302.74L50.09,303.66L51.24,303.66L51.24,303.15L52.40,303.15L52.40,303.45L53.56,303.45L53.56,299.56L54.71,299.56L54.71,302.67L55.87,302.67L55.87,302.85L57.02,302.85L57.02,302.08L58.18,302.08L58.18,303.20L59.33,303.20L59.33,303.32L60.49,303.32L60.49,302.83L61.65,302.83L61.65,303.06L62.80,303.06L62.80,303.33L63.96,303.33L63.96,303.27L65.11,303.27L65.11,303.20L66.27,303.20L66.27,307.08L67.42,307.08L67.42,313.21L68.58,313.21L68.58,317.13L69.73,317.13L69.73,322.07L70.89,322.07L70.89,322.52L72.05,322.52L72.05,307.65L73.20,307.65L73.20,306.18L74.36,306.18L74.36,302.68L75.51,302.68L75.51,304.60L76.67,304.60L76.67,304.46L77.82,304.46L77.82,304.68L78.98,304.68L78.98,303.60L80.13,303.60L80.13,304.79L81.29,304.79L81.29,305.17L82.45,305.17L82.45,303.45L83.60,303.45L83.60,304.89L84.76,304.89L84.76,303.48L85.91,303.48L85.91,305.33L87.07,305.33L87.07,303.19L88.22,303.19L88.22,303.81L89.38,303.81L89.38,303.99L90.54,303.99L90.54,301.73L91.69,301.73L91.69,300.76L92.85,300.76L92.85,297.27L94.00,297.27L94.00,295.88L95.16,295.88L95.16,296.98L96.31,296.98L96.31,297.16L97.47,297.16L97.47,297.01L98.62,297.01L98.62,298.50L99.78,298.50L99.78,298.24L100.94,298.24L100.94,298.44L102.09,298.44L102.09,300.66L103.25,300.66L103.25,300.28L104.40,300.28L104.40,300.05L105.56,300.05L105.56,300.33L106.71,300.33L106.71,300.75L107.87,300.75L107.87,300.91L109.02,300.91L109.02,300.57L110.18,300.57L110.18,301.57L111.34,301.57L111.34,301.04L112.49,301.04L112.49,300.97L113.65,300.97L113.65,300.27L114.80,300.27L114.80,301.08L115.96,301.08L115.96,301.72L117.11,301.72L117.11,301.63L118.27,301.63L118.27,301.37L119.43,301.37L119.43,301.23L120.58,301.23L120.58,300.95L121.74,300.95L121.74,300.32L122.89,300.32L122.89,300.80L124.05,300.80L124.05,300.49L125.20,300.49L125.20,300.10L126.36,300.10L126.36,301.65L127.51,301.65L127.51,299.15L128.67,299.15L128.67,302.26L129.83,302.26L129.83,301.17L130.98,301.17L130.98,301.91L132.14,301.91L132.14,301.14L133.29,301.14L133.29,301.81L134.45,301.81L134.45,300.98L135.60,300.98L135.60,298.41L136.76,298.41L136.76,301.63L137.91,301.63L137.91,301.51L139.07,301.51L139.07,301.95L140.23,301.95L140.23,301.39L141.38,301.39L141.38,301.92L142.54,301.92L142.54,302.32L143.69,302.32L143.69,301.50L144.85,301.50L144.85,301.28L146.00,301.28L146.00,301.25L147.16,301.25L147.16,302.80L148.32,302.80L148.32,301.16L149.47,301.16L149.47,301.27L150.63,301.27L150.63,300.72L151.78,300.72L151.78,301.65L152.94,301.65L152.94,301.57L154.09,301.57L154.09,301.90L155.25,301.90L155.25,301.40L156.40,301.40L156.40,301.94L157.56,301.94L157.56,301.07L158.72,301.07L158.72,301.26L159.87,301.26L159.87,300.04L161.03,300.04L161.03,299.77L162.18,299.77L162.18,296.56L163.34,296.56L163.34,296.27L164.49,296.27L164.49,296.15L165.65,296.15L165.65,297.79L166.80,297.79L166.80,298.80L167.96,298.80L167.96,298.52L169.12,298.52L169.12,300.35L170.27,300.35L170.27,299.57L171.43,299.57L171.43,299.88L172.58,299.88L172.58,300.50L173.74,300.50L173.74,299.50L174.89,299.50L174.89,300.24L176.05,300.24L176.05,300.46L177.21,300.46L177.21,300.20L178.36,300.20L178.36,300.24L179.52,300.24L179.52,299.10L180.67,299.10L180.67,299.27L181.83,299.27L181.83,302.16L182.98,302.16L182.98,299.46L184.14,299.46L184.14,300.95L185.29,300.95L185.29,300.14L186.45,300.14L186.45,301.06L187.61,301.06L187.61,300.94L188.76,300.94L188.76,298.79L189.92,298.79L189.92,301.22L191.07,301.22L191.07,300.74L192.23,300.74L192.23,302.54L193.38,302.54L193.38,301.79L194.54,301.79L194.54,300.20L195.69,300.20L195.69,301.37L196.85,301.37L196.85,300.18L198.01,300.18L198.01,300.73L199.16,300.73L199.16,301.86L200.32,301.86L200.32,302.55L201.47,302.55L201.47,301.54L202.63,301.54L202.63,301.73L203.78,301.73L203.78,302.27L204.94,302.27L204.94,299.37L206.10,299.37L206.10,301.83L207.25,301.83L207.25,301.80L208.41,301.80L208.41,301.11L209.56,301.11L209.56,302.19L210.72,302.19L210.72,302.67L211.87,302.67L211.87,300.47L213.03,300.47L213.03,302.33L214.18,302.33L214.18,301.68L215.34,301.68L215.34,300.86L216.50,300.86L216.50,299.93L217.65,299.93L217.65,301.84L218.81,301.84L218.81,301.55L219.96,301.55L219.96,301.43L221.12,301.43L221.12,301.78L222.27,301.78L222.27,301.28L223.43,301.28L223.43,302.62L224.58,302.62L224.58,294.81L225.74,294.81L225.74,299.71L226.90,299.71L226.90,300.46L228.05,300.46L228.05,292.35L229.21,292.35L229.21,288.98L230.36,288.98L230.36,286.33L231.52,286.33L231.52,283.07L232.67,283.07L232.67,286.75L233.83,286.75L233.83,289.91L234.99,289.91L234.99,292.91L236.14,292.91L236.14,293.31L237.30,293.31L237.30,293.30L238.45,293.30L238.45,294.66L239.61,294.66L239.61,294.30L240.76,294.30L240.76,295.82L241.92,295.82L241.92,294.76L243.07,294.76L243.07,296.34L244.23,296.34L244.23,295.97L245.39,295.97L245.39,295.34L246.54,295.34L246.54,297.09L247.70,297.09L247.70,297.17L248.85,297.17L248.85,297.03L250.01,297.03L250.01,297.53L251.16,297.53L251.16,297.30L252.32,297.30L252.32,297.53L253.47,297.53L253.47,298.87L254.63,298.87L254.63,299.88L255.79,299.88L255.79,299.66L256.94,299.66L256.94,299.04L258.10,299.04L258.10,298.99L259.25,298.99L259.25,296.66L260.41,296.66L260.41,298.54L261.56,298.54L261.56,300.84L262.72,300.84L262.72,299.40L263.88,299.40L263.88,300.55L265.03,300.55L265.03,301.70L266.19,301.70L266.19,301.70L267.34,301.70L267.34,300.22L268.50,300.22L268.50,300.39L269.65,300.39L269.65,298.40L270.81,298.40L270.81,300.56L271.96,300.56L271.96,301.48L273.12,301.48L273.12,301.68L274.28,301.68L274.28,301.24L275.43,301.24L275.43,301.44L276.59,301.44L276.59,301.77L277.74,301.77L277.74,301.19L278.90,301.19L278.90,300.59L280.05,300.59L280.05,301.24L281.21,301.24L281.21,301.26L282.36,301.26L282.36,300.31L283.52,300.31L283.52,302.28L284.68,302.28L284.68,301.85L285.83,301.85L285.83,301.26L286.99,301.26L286.99,299.24L288.14,299.24L288.14,301.36L289.30,301.36L289.30,300.93L290.45,300.93L290.45,299.55L291.61,299.55L291.61,300.62L292.77,300.62L292.77,300.35L293.92,300.35L293.92,298.96L295.08,298.96L295.08,296.77L296.23,296.77L296.23,296.24L297.39,296.24L297.39,296.55L298.54,296.55L298.54,297.22L299.70,297.22L299.70,297.08L300.85,297.08L300.85,298.32L302.01,298.32L302.01,299.09L303.17,299.09L303.17,297.25L304.32,297.25L304.32,299.41L305.48,299.41L305.48,298.30L306.63,298.30L306.63,300.38L307.79,300.38L307.79,300.91L308.94,300.91L308.94,299.58L310.10,299.58L310.10,301.22L311.25,301.22L311.25,299.82L312.41,299.82L312.41,301.90L313.57,301.90L313.57,300.97L314.72,300.97L314.72,298.80L315.88,298.80L315.88,300.77L317.03,300.77L317.03,301.31L318.19,301.31L318.19,300.22L319.34,300.22L319.34,302.49L320.50,302.49L320.50,300.96L321.66,300.96L321.66,301.10L322.81,301.10L322.81,300.78L323.97,300.78L323.97,302.15L325.12,302.15L325.12,301.50L326.28,301.50L326.28,301.63L327.43,301.63L327.43,300.63L328.59,300.63L328.59,301.91L329.74,301.91L329.74,302.03L330.90,302.03L330.90,300.81L332.06,300.81L332.06,301.53L333.21,301.53L333.21,302.18L334.37,302.18L334.37,301.01L335.52,301.01L335.52,301.63L336.68,301.63L336.68,302.83L337.83,302.83L337.83,301.25L338.99,301.25L338.99,301.37L340.14,301.37L340.14,301.84L341.30,301.84L341.30,302.67L342.46,302.67L342.46,300.27L343.61,300.27L343.61,300.64L344.77,300.64L344.77,301.46L345.92,301.46L345.92,301.99L347.08,301.99L347.08,302.36L348.23,302.36L348.23,301.24L349.39,301.24L349.39,303.04L350.55,303.04L350.55,300.29L351.70,300.29L351.70,301.63L352.86,301.63L352.86,303.04L354.01,303.04L354.01,301.84L355.17,301.84L355.17,302.61L356.32,302.61L356.32,301.83L357.48,301.83L357.48,302.41L358.63,302.41L358.63,301.39L359.79,301.39L359.79,302.43L360.95,302.43L360.95,302.20L362.10,302.20L362.10,301.32L363.26,301.32L363.26,301.12L364.41,301.12L364.41,302.48L365.57,302.48L365.57,300.51L366.72,300.51L366.72,293.32L367.88,293.32L367.88,286.52L369.03,286.52L369.03,282.77L370.19,282.77L370.19,280.02L371.35,280.02L371.35,283.77L372.50,283.77L372.50,285.48L373.66,285.48L373.66,287.53L374.81,287.53L374.81,289.45L375.97,289.45L375.97,292.24L377.12,292.24L377.12,292.71L378.28,292.71L378.28,293.13L379.44,293.13L379.44,293.65L380.59,293.65L380.59,293.87L381.75,293.87L381.75,294.87L382.90,294.87L382.90,294.94L384.06,294.94L384.06,295.38L385.21,295.38L385.21,296.16L386.37,296.16L386.37,295.63L387.52,295.63L387.52,295.23L388.68,295.23L388.68,296.44L389.84,296.44L389.84,297.46L390.99,297.46L390.99,296.57L392.15,296.57L392.15,294.28L393.30,294.28L393.30,296.88L394.46,296.88L394.46,296.60L395.61,296.60L395.61,297.66L396.77,297.66L396.77,296.37L397.92,296.37L397.92,298.76L399.08,298.76L399.08,297.83L400.24,297.83L400.24,298.38L401.39,298.38L401.39,299.01L402.55,299.01L402.55,298.57L403.70,298.57L403.70,298.85L404.86,298.85L404.86,299.19L406.01,299.19L406.01,299.81L407.17,299.81L407.17,300.41L408.33,300.41L408.33,299.98L409.48,299.98L409.48,300.03L410.64,300.03L410.64,299.95L411.79,299.95L411.79,299.29L412.95,299.29L412.95,298.93L414.10,298.93L414.10,300.23L415.26,300.23L415.26,301.20L416.41,301.20L416.41,299.85L417.57,299.85L417.57,300.61L418.73,300.61L418.73,300.44L419.88,300.44L419.88,300.13L421.04,300.13L421.04,300.44L422.19,300.44L422.19,300.47L423.35,300.47L423.35,298.71L424.50,298.71L424.50,301.01L425.66,301.01L425.66,301.25L426.81,301.25L426.81,300.44L427.97,300.44L427.97,300.29L429.13,300.29L429.13,300.73L430.28,300.73L430.28,300.64L431.44,300.64L431.44,300.23L432.59,300.23L432.59,300.78L433.75,300.78L433.75,301.28L434.90,301.28L434.90,300.50L436.06,300.50L436.06,302.12L437.22,302.12L437.22,300.84L438.37,300.84L438.37,300.37L439.53,300.37L439.53,301.12L440.68,301.12L440.68,301.36L441.84,301.36L441.84,301.38L442.99,301.38L442.99,302.43L444.15,302.43L444.15,302.31L445.30,302.31L445.30,301.49L446.46,301.49L446.46,302.91L447.62,302.91L447.62,302.34L448.77,302.34L448.77,301.98L449.93,301.98L449.93,300.71L451.08,300.71L451.08,302.28L452.24,302.28L452.24,303.73L453.39,303.73L453.39,301.98L454.55,301.98L454.55,302.34L455.70,302.34L455.70,297.50L456.86,297.50L456.86,286.64L458.02,286.64L458.02,274.56L459.17,274.56L459.17,269.76L460.33,269.76L460.33,275.44L461.48,275.44L461.48,280.42L462.64,280.42L462.64,284.85L463.79,284.85L463.79,286.37L464.95,286.37L464.95,287.23L466.11,287.23L466.11,288.55L467.26,288.55L467.26,290.37L468.42,290.37L468.42,290.26L469.57,290.26L469.57,292.54L470.73,292.54L470.73,292.62L471.88,292.62L471.88,292.19L473.04,292.19L473.04,294.57L474.19,294.57L474.19,294.36L475.35,294.36L475.35,295.19L476.51,295.19L476.51,295.08L477.66,295.08L477.66,294.76L478.82,294.76L478.82,294.58L479.97,294.58L479.97,295.61L481.13,295.61L481.13,295.68L482.28,295.68L482.28,296.40L483.44,296.40L483.44,296.14L484.59,296.14L484.59,297.02L485.75,297.02L485.75,298.18L486.91,298.18L486.91,297.26L488.06,297.26L488.06,298.17L489.22,298.17L489.22,297.83L490.37,297.83L490.37,297.72L491.53,297.72L491.53,298.65L492.68,298.65L492.68,297.61L493.84,297.61L493.84,298.94L495.00,298.94L495.00,298.94L496.15,298.94L496.15,299.39L497.31,299.39L497.31,298.61L498.46,298.61L498.46,300.25L499.62,300.25L499.62,300.23L500.77,300.23L500.77,299.56L501.93,299.56L501.93,299.63L503.08,299.63L503.08,300.66L504.24,300.66L504.24,300.25L505.40,300.25L505.40,299.99L506.55,299.99L506.55,299.82L507.71,299.82L507.71,300.06L508.86,300.06L508.86,300.06L510.02,300.06L510.02,299.96L511.17,299.96L511.17,299.75L512.33,299.75L512.33,300.26L513.48,300.26L513.48,299.84L514.64,299.84L514.64,300.85L515.80,300.85L515.80,300.51L516.95,300.51L516.95,300.49L518.11,300.49L518.11,299.99L519.26,299.99L519.26,299.24L520.42,299.24L520.42,299.12L521.57,299.12L521.57,300.38L522.73,300.38L522.73,300.07L523.89,300.07L523.89,299.89L525.04,299.89L525.04,300.22L526.20,300.22L526.20,300.28L527.35,300.28L527.35,301.15L528.51,301.15L528.51,299.77L529.66,299.77L529.66,300.69L530.82,300.69L530.82,300.01L531.97,300.01L531.97,299.89L533.13,299.89L533.13,299.19L534.29,299.19L534.29,300.72L535.44,300.72L535.44,300.04L536.60,300.04L536.60,300.43L537.75,300.43L537.75,300.18L538.91,300.18L538.91,300.82L540.06,300.82L540.06,299.99L541.22,299.99L541.22,300.75L542.37,300.75L542.37,299.64L543.53,299.64L543.53,299.99L544.69,299.99L544.69,301.59L545.84,301.59L545.84,300.63L547.00,300.63L547.00,300.61L548.15,300.61L548.15,301.11L549.31,301.11L549.31,300.44L550.46,300.44L550.46,300.18L551.62,300.18L551.62,300.39L552.78,300.39L552.78,300.61L553.93,300.61L553.93,295.65L555.09,295.65L555.09,285.79L556.24,285.79L556.24,271.20L557.40,271.20L557.40,273.05L558.55,273.05L558.55,276.40L559.71,276.40L559.71,281.27L560.86,281.27L560.86,282.93L562.02,282.93L562.02,286.60L563.18,286.60L563.18,289.08L564.33,289.08L564.33,289.13L565.49,289.13L565.49,289.49L566.64,289.49L566.64,289.96L567.80,289.96L567.80,290.19L568.95,290.19L568.95,291.21L570.11,291.21L570.11,292.18L571.26,292.18L571.26,290.08L572.42,290.08L572.42,292.69L573.58,292.69L573.58,293.23L574.73,293.23L574.73,292.92L575.89,292.92L575.89,294.37L577.04,294.37L577.04,294.07L578.20,294.07L578.20,293.54L579.35,293.54L579.35,293.99L580.51,293.99L580.51,292.92L581.67,292.92L581.67,292.98L582.60,292.98L582.60,323.40Z" fill="#000"/>
<line x1="39.00" y1="323.40" x2="42.00" y2="323.40" stroke="#555" stroke-width="0.9"/>
<text x="35.20" y="326.80" font-size="7.6" text-anchor="end" font-weight="bold" font-family='"Liberation Serif", serif' fill="#000" stroke="#000" stroke-width="0.25">0</text>
<line x1="39.00" y1="310.97" x2="42.00" y2="310.97" stroke="#555" stroke-width="0.9"/>
<text x="35.20" y="314.37" font-size="7.6" text-anchor="end" font-weight="bold" font-family='"Liberation Serif", serif' fill="#000" stroke="#000" stroke-width="0.25">10</text>
<line x1="39.00" y1="298.54" x2="42.00" y2="298.54" stroke="#555" stroke-width="0.9"/>
<text x="35.20" y="301.94" font-size="7.6" text-anchor="end" font-weight="bold" font-family='"Liberation Serif", serif' fill="#000" stroke="#000" stroke-width="0.25">20</text>
<line x1="39.00" y1="286.11" x2="42.00" y2="286.11" stroke="#555" stroke-width="0.9"/>
<text x="35.20" y="289.51" font-size="7.6" text-anchor="end" font-weight="bold" font-family='"Liberation Serif", serif' fill="#000" stroke="#000" stroke-width="0.25">30</text>
<line x1="39.00" y1="273.68" x2="42.00" y2="273.68" stroke="#555" stroke-width="0.9"/>
<text x="35.20" y="277.08" font-size="7.6" text-anchor="end" font-weight="bold" font-family='"Liberation Serif", serif' fill="#000" stroke="#000" stroke-width="0.25">40</text>
<line x1="39.00" y1="261.25" x2="42.00" y2="261.25" stroke="#555" stroke-width="0.9"/>
<text x="35.20" y="264.65" font-size="7.6" text-anchor="end" font-weight="bold" font-family='"Liberation Serif", serif' fill="#000" stroke="#000" stroke-width="0.25">50</text>
<line x1="39.00" y1="248.82" x2="42.00" y2="248.82" stroke="#555" stroke-width="0.9"/>
<text x="35.20" y="252.22" font-size="7.6" text-anchor="end" font-weight="bold" font-family='"Liberation Serif", serif' fill="#000" stroke="#000" stroke-width="0.25">60</text>
<line x1="42.00" y1="323.40" x2="42.00" y2="326.00" stroke="#555" stroke-width="0.9"/>
<text x="42.00" y="337.50" font-size="7.6" text-anchor="middle" font-weight="bold" font-family='"Liberation Serif", serif' fill="#000" letter-spacing="0.5" stroke="#000" stroke-width="0.25">0</text>
<line x1="111.34" y1="323.40" x2="111.34" y2="326.00" stroke="#555" stroke-width="0.9"/>
<text x="111.34" y="337.50" font-size="7.6" text-anchor="middle" font-weight="bold" font-family='"Liberation Serif", serif' fill="#000" letter-spacing="0.5" stroke="#000" stroke-width="0.25">1800</text>
<line x1="180.67" y1="323.40" x2="180.67" y2="326.00" stroke="#555" stroke-width="0.9"/>
<text x="180.67" y="337.50" font-size="7.6" text-anchor="middle" font-weight="bold" font-family='"Liberation Serif", serif' fill="#000" letter-spacing="0.5" stroke="#000" stroke-width="0.25">3600</text>
<line x1="250.01" y1="323.40" x2="250.01" y2="326.00" stroke="#555" stroke-width="0.9"/>
<text x="250.01" y="337.50" font-size="7.6" text-anchor="middle" font-weight="bold" font-family='"Liberation Serif", serif' fill="#000" letter-spacing="0.5" stroke="#000" stroke-width="0.25">5400</text>
<line x1="319.34" y1="323.40" x2="319.34" y2="326.00" stroke="#555" stroke-width="0.9"/>
<text x="319.34" y="337.50" font-size="7.6" text-anchor="middle" font-weight="bold" font-family='"Liberation Serif", serif' fill="#000" letter-spacing="0.5" stroke="#000" stroke-width="0.25">7200</text>
<line x1="388.68" y1="323.40" x2="388.68" y2="326.00" stroke="#555" stroke-width="0.9"/>
<text x="388.68" y="337.50" font-size="7.6" text-anchor="middle" font-weight="bold" font-family='"Liberation Serif", serif' fill="#000" letter-spacing="0.5" stroke="#000" stroke-width="0.25">9000</text>
<line x1="458.02" y1="323.40" x2="458.02" y2="326.00" stroke="#555" stroke-width="0.9"/>
<text x="458.02" y="337.50" font-size="7.6" text-anchor="middle" font-weight="bold" font-family='"Liberation Serif", serif' fill="#000" letter-spacing="0.5" stroke="#000" stroke-width="0.25">10800</text>
<line x1="527.35" y1="323.40" x2="527.35" y2="326.00" stroke="#555" stroke-width="0.9"/>
<text x="527.35" y="337.50" font-size="7.6" text-anchor="middle" font-weight="bold" font-family='"Liberation Serif", serif' fill="#000" letter-spacing="0.5" stroke="#000" stroke-width="0.25">12600</text>
<text x="0" y="0" font-size="12.0" text-anchor="middle" font-weight="bold" font-family='"Liberation Serif", serif' transform="translate(16.50,283.00) rotate(-90)" >Spikes/10 s</text>
<text x="80.00" y="258.80" font-size="6.6" text-anchor="start" font-weight="bold" font-family='"Liberation Serif", serif' fill="#000"  textLength="49.20" lengthAdjust="spacingAndGlyphs">oCRF 400 nM</text>
<rect x="90.80" y="264.30" width="6.00" height="1.50" fill="#000" />
<text x="147.80" y="258.80" font-size="6.6" text-anchor="start" font-weight="bold" font-family='"Liberation Serif", serif' fill="#000"  textLength="49.60" lengthAdjust="spacingAndGlyphs">oCRF 400 nM</text>
<rect x="158.60" y="264.30" width="5.90" height="1.50" fill="#000" />
<text x="219.00" y="258.80" font-size="6.6" text-anchor="start" font-weight="bold" font-family='"Liberation Serif", serif' fill="#000"  textLength="49.60" lengthAdjust="spacingAndGlyphs">oCRF 800 nM</text>
<rect x="227.50" y="264.30" width="5.80" height="1.50" fill="#000" />
<text x="280.30" y="258.80" font-size="6.6" text-anchor="start" font-weight="bold" font-family='"Liberation Serif", serif' fill="#000"  textLength="49.10" lengthAdjust="spacingAndGlyphs">oCRF 600 nM</text>
<rect x="289.90" y="264.40" width="5.90" height="1.50" fill="#000" />
<text x="354.50" y="258.80" font-size="6.6" text-anchor="start" font-weight="bold" font-family='"Liberation Serif", serif' fill="#000"  textLength="53.30" lengthAdjust="spacingAndGlyphs">oCRF 1200 nM</text>
<rect x="366.30" y="264.80" width="6.00" height="1.50" fill="#000" />
<text x="441.90" y="258.80" font-size="6.6" text-anchor="start" font-weight="bold" font-family='"Liberation Serif", serif' fill="#000"  textLength="54.00" lengthAdjust="spacingAndGlyphs">oCRF 1600 nM</text>
<rect x="455.00" y="264.80" width="5.50" height="1.50" fill="#000" />
<text x="526.80" y="258.80" font-size="6.6" text-anchor="start" font-weight="bold" font-family='"Liberation Serif", serif' fill="#000"  textLength="52.80" lengthAdjust="spacingAndGlyphs">oCRF 2000 nM</text>
<rect x="553.00" y="264.80" width="5.70" height="1.50" fill="#000" />
<text x="62.30" y="276.80" font-size="7.2" text-anchor="start" font-weight="bold" font-family='"Liberation Serif", serif' fill="#000"  textLength="17.10" lengthAdjust="spacingAndGlyphs">5-HT</text>
<text x="60.40" y="284.50" font-size="7.2" text-anchor="start" font-weight="bold" font-family='"Liberation Serif", serif' fill="#000"  textLength="21.50" lengthAdjust="spacingAndGlyphs">50 µM</text>
<rect x="68.20" y="286.80" width="4.70" height="1.40" fill="#000" />
<text x="292.40" y="354.80" font-size="10.9" text-anchor="start" font-weight="bold" font-family='"Liberation Serif", serif' fill="#000"  textLength="39.79" lengthAdjust="spacing">Time (s)</text>
<rect x="633.50" y="30.40" width="82.80" height="153.00" fill="none" stroke="#8a8a8a" stroke-width="0.9"/>
<line x1="630.50" y1="165.60" x2="633.50" y2="165.60" stroke="#8a8a8a" stroke-width="0.9"/>
<text x="628.40" y="168.90" font-size="7.6" text-anchor="end" font-weight="bold" font-family='"Liberation Serif", serif' fill="#000" stroke="#000" stroke-width="0.25">0</text>
<line x1="630.50" y1="146.29" x2="633.50" y2="146.29" stroke="#8a8a8a" stroke-width="0.9"/>
<text x="628.40" y="149.59" font-size="7.6" text-anchor="end" font-weight="bold" font-family='"Liberation Serif", serif' fill="#000" stroke="#000" stroke-width="0.25">20</text>
<line x1="630.50" y1="126.97" x2="633.50" y2="126.97" stroke="#8a8a8a" stroke-width="0.9"/>
<text x="628.40" y="130.27" font-size="7.6" text-anchor="end" font-weight="bold" font-family='"Liberation Serif", serif' fill="#000" stroke="#000" stroke-width="0.25">40</text>
<line x1="630.50" y1="107.66" x2="633.50" y2="107.66" stroke="#8a8a8a" stroke-width="0.9"/>
<text x="628.40" y="110.96" font-size="7.6" text-anchor="end" font-weight="bold" font-family='"Liberation Serif", serif' fill="#000" stroke="#000" stroke-width="0.25">60</text>
<line x1="630.50" y1="88.34" x2="633.50" y2="88.34" stroke="#8a8a8a" stroke-width="0.9"/>
<text x="628.40" y="91.64" font-size="7.6" text-anchor="end" font-weight="bold" font-family='"Liberation Serif", serif' fill="#000" stroke="#000" stroke-width="0.25">80</text>
<line x1="630.50" y1="69.03" x2="633.50" y2="69.03" stroke="#8a8a8a" stroke-width="0.9"/>
<text x="628.40" y="72.33" font-size="7.6" text-anchor="end" font-weight="bold" font-family='"Liberation Serif", serif' fill="#000" stroke="#000" stroke-width="0.25">100</text>
<line x1="630.50" y1="49.72" x2="633.50" y2="49.72" stroke="#8a8a8a" stroke-width="0.9"/>
<text x="628.40" y="53.02" font-size="7.6" text-anchor="end" font-weight="bold" font-family='"Liberation Serif", serif' fill="#000" stroke="#000" stroke-width="0.25">120</text>
<line x1="630.50" y1="30.40" x2="633.50" y2="30.40" stroke="#8a8a8a" stroke-width="0.9"/>
<text x="628.40" y="33.70" font-size="7.6" text-anchor="end" font-weight="bold" font-family='"Liberation Serif", serif' fill="#000" stroke="#000" stroke-width="0.25">140</text>
<line x1="633.90" y1="183.40" x2="633.90" y2="185.40" stroke="#8a8a8a" stroke-width="0.9"/>
<text x="633.90" y="193.80" font-size="6.3" text-anchor="middle" font-weight="normal" font-family='"Liberation Sans", sans-serif' fill="#222" >0</text>
<line x1="668.30" y1="183.40" x2="668.30" y2="185.40" stroke="#8a8a8a" stroke-width="0.9"/>
<text x="668.30" y="193.80" font-size="6.3" text-anchor="middle" font-weight="normal" font-family='"Liberation Sans", sans-serif' fill="#222" >1000</text>
<line x1="702.70" y1="183.40" x2="702.70" y2="185.40" stroke="#8a8a8a" stroke-width="0.9"/>
<text x="702.70" y="193.80" font-size="6.3" text-anchor="middle" font-weight="normal" font-family='"Liberation Sans", sans-serif' fill="#222" >2000</text>
<polyline points="647.66,150.44 661.42,151.69 668.30,116.16 675.18,89.31 688.94,68.84 702.70,47.98" fill="none" stroke="#000" stroke-width="0.8"/>
<polyline points="647.66,158.26 661.42,129.68 675.18,104.76 688.94,112.20 702.70,92.50" fill="none" stroke="#000" stroke-width="0.8"/>
<polyline points="647.66,148.80 661.42,146.00 675.18,124.85 688.94,131.99" fill="none" stroke="#000" stroke-width="0.8"/>
<rect x="645.76" y="148.54" width="3.80" height="3.80" fill="#000" />
<rect x="659.52" y="149.79" width="3.80" height="3.80" fill="#000" />
<rect x="666.40" y="114.26" width="3.80" height="3.80" fill="#000" />
<rect x="673.28" y="87.41" width="3.80" height="3.80" fill="#000" />
<rect x="687.04" y="66.94" width="3.80" height="3.80" fill="#000" />
<rect x="700.80" y="46.08" width="3.80" height="3.80" fill="#000" />
<polygon points="647.66,155.76 650.06,159.96 645.26,159.96" fill="#000"/>
<polygon points="661.42,127.18 663.82,131.38 659.02,131.38" fill="#000"/>
<polygon points="675.18,102.26 677.58,106.46 672.78,106.46" fill="#000"/>
<polygon points="688.94,109.70 691.34,113.90 686.54,113.90" fill="#000"/>
<polygon points="702.70,90.00 705.10,94.20 700.30,94.20" fill="#000"/>
<circle cx="647.66" cy="148.80" r="2.1" fill="#000"/>
<circle cx="661.42" cy="146.00" r="2.1" fill="#000"/>
<circle cx="675.18" cy="124.85" r="2.1" fill="#000"/>
<circle cx="688.94" cy="131.99" r="2.1" fill="#000"/>
<text x="0" y="0" font-size="9.75" text-anchor="middle" font-weight="bold" font-family='"Liberation Serif", serif' transform="translate(610.50,108.80) rotate(-90)" >Maximum increase in firing rate (%)</text>
<text x="652.70" y="205.50" font-size="9.7" text-anchor="start" font-weight="bold" font-family='"Liberation Serif", serif' fill="#000"  textLength="47.68" lengthAdjust="spacing">oCRF (nM)</text>
<rect x="634.50" y="224.40" width="81.00" height="121.90" fill="none" stroke="#8a8a8a" stroke-width="0.9"/>
<line x1="631.50" y1="326.90" x2="634.50" y2="326.90" stroke="#8a8a8a" stroke-width="0.9"/>
<text x="629.00" y="330.20" font-size="7.6" text-anchor="end" font-weight="bold" font-family='"Liberation Serif", serif' fill="#000" stroke="#000" stroke-width="0.25">0</text>
<line x1="631.50" y1="285.65" x2="634.50" y2="285.65" stroke="#8a8a8a" stroke-width="0.9"/>
<text x="629.00" y="288.95" font-size="7.6" text-anchor="end" font-weight="bold" font-family='"Liberation Serif", serif' fill="#000" stroke="#000" stroke-width="0.25">10</text>
<line x1="631.50" y1="244.40" x2="634.50" y2="244.40" stroke="#8a8a8a" stroke-width="0.9"/>
<text x="629.00" y="247.70" font-size="7.6" text-anchor="end" font-weight="bold" font-family='"Liberation Serif", serif' fill="#000" stroke="#000" stroke-width="0.25">20</text>
<rect x="651.00" y="326.20" width="6.00" height="4.60" fill="#000" rx="0.6"/>
<rect x="684.10" y="325.50" width="5.80" height="5.30" fill="#000" rx="1.8"/>
<rect x="660.8" y="305.86" width="5.8" height="21.04" fill="#d0d0d0" stroke="#555" stroke-width="0.8"/>
<line x1="663.70" y1="305.86" x2="663.70" y2="303.80" stroke="#333" stroke-width="0.6"/>
<line x1="662.40" y1="303.80" x2="665.00" y2="303.80" stroke="#333" stroke-width="0.6"/>
<rect x="693.9" y="262.96" width="6.2" height="63.94" fill="#d0d0d0" stroke="#555" stroke-width="0.8"/>
<line x1="697.00" y1="262.96" x2="697.00" y2="247.29" stroke="#333" stroke-width="0.6"/>
<line x1="695.60" y1="247.29" x2="698.40" y2="247.29" stroke="#333" stroke-width="0.6"/>
<text x="665.40" y="298.20" font-size="12" text-anchor="middle" font-weight="bold" font-family='"Liberation Serif", serif' fill="#000" >**</text>
<text x="695.60" y="242.80" font-size="12" text-anchor="middle" font-weight="bold" font-family='"Liberation Serif", serif' fill="#000" >*</text>
<text x="653.20" y="359.40" font-size="9.0" text-anchor="start" font-weight="bold" font-family='"Liberation Serif", serif' fill="#000"  textLength="14.25" lengthAdjust="spacing">400</text>
<text x="683.90" y="359.40" font-size="9.0" text-anchor="start" font-weight="bold" font-family='"Liberation Serif", serif' fill="#000"  textLength="18.00" lengthAdjust="spacing">1200</text>
<text x="652.50" y="372.30" font-size="9.7" text-anchor="start" font-weight="bold" font-family='"Liberation Serif", serif' fill="#000"  textLength="47.68" lengthAdjust="spacing">oCRF (nM)</text>
<text x="0" y="0" font-size="10.1" text-anchor="middle" font-weight="bold" font-family='"Liberation Serif", serif' transform="translate(615.50,288.20) rotate(-90)" >% Change in firing rate</text>
</svg>
</body></html>
